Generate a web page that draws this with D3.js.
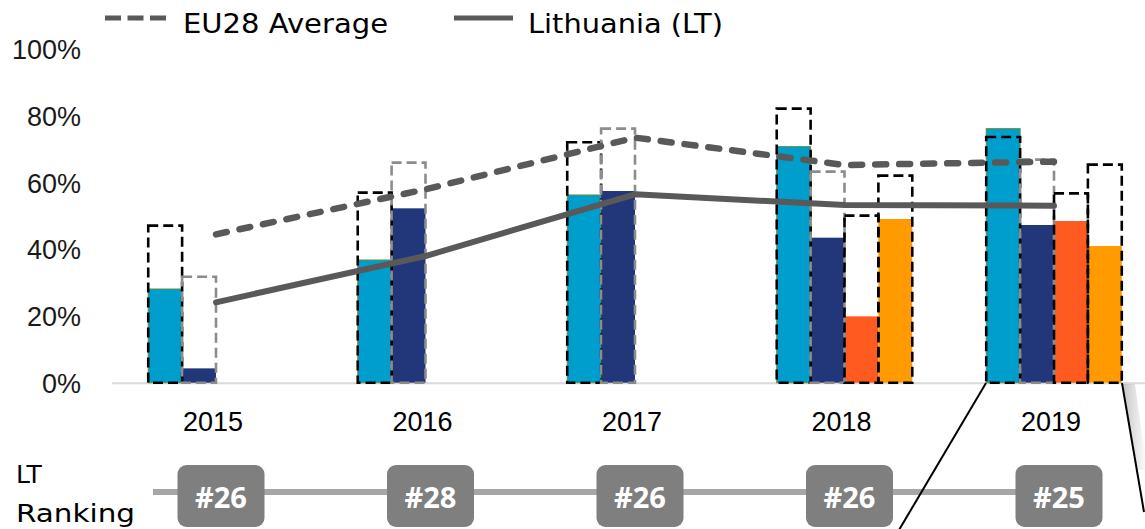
<!DOCTYPE html>
<html>
<head>
<meta charset="utf-8">
<script src="https://cdn.jsdelivr.net/npm/d3@7"></script>
<style>
  body { margin: 0; background: #fff; }
  svg { display: block; }
</style>
</head>
<body>
<svg id="chart" width="1145" height="529"></svg>
<script>
// values (percent)
var years = ['2015', '2016', '2017', '2018', '2019'];
var seriesKeys = ['ind1', 'ind2', 'ind3', 'ind4'];

// Lithuania bars, one array per indicator
var ltInd1 = [28.1, 36.8, 56.3, 70.8, 76.2];
var ltInd2 = [4.3, 52.3, 57.5, 43.5, 47.3];
var ltInd3 = [null, null, null, 19.9, 48.5];
var ltInd4 = [null, null, null, 49.1, 41.0];

// EU28 values for the same indicators (dashed outlines)
var euInd1 = [47.1, 57.0, 72.1, 82.2, 73.7];
var euInd2 = [31.8, 66.0, 76.2, 63.3, 66.9];
var euInd3 = [null, null, null, 50.1, 56.8];
var euInd4 = [null, null, null, 62.1, 65.4];

// overall scores (lines)
var euAverage = [44.5, 58.0, 73.5, 65.3, 66.3];
var ltScore = [24.1, 38.0, 56.5, 53.3, 53.1];

var ranks = ['#26', '#28', '#26', '#26', '#25'];
var yTicks = [0, 20, 40, 60, 80, 100];

var colors = { ind1: '#009ecc', ind2: '#22377a', ind3: '#ff5a1f', ind4: '#ff9a00' };
var outline = { ind1: '#000000', ind2: '#8c8c8c', ind3: '#000000', ind4: '#000000' };
var lineColor = '#595959';

var lt = { ind1: ltInd1, ind2: ltInd2, ind3: ltInd3, ind4: ltInd4 };
var eu = { ind1: euInd1, ind2: euInd2, ind3: euInd3, ind4: euInd4 };

var barData = [];
years.forEach(function (yr, i) {
    seriesKeys.forEach(function (k) {
        barData.push({ year: yr, key: k, lt: lt[k][i], eu: eu[k][i] });
    });
});

var svg = d3.select('#chart');

var x = d3.scaleBand()
    .domain(years)
    .range([111.25, 1158.75])
    .paddingInner(0.353)
    .paddingOuter(0.1765);

var x1 = d3.scaleBand()
    .domain(seriesKeys)
    .range([0, x.bandwidth()]);

var y = d3.scaleLinear()
    .domain([0, 100])
    .range([382.7, 49.3]);

function cx(yr) { return x(yr) + x.bandwidth() / 2; }

// baseline
svg.append('line')
    .attr('x1', 112).attr('x2', 1145)
    .attr('y1', y(0) + 0.5).attr('y2', y(0) + 0.5)
    .attr('stroke', '#d9d9d9')
    .attr('stroke-width', 2);

// y tick labels
svg.append('g').selectAll('text')
    .data(yTicks)
    .enter().append('text')
    .attr('x', 81)
    .attr('y', function (d) { return y(d) + 10; })
    .attr('text-anchor', 'end')
    .attr('font-family', 'Liberation Sans, Arial, sans-serif')
    .attr('font-size', 27)
    .attr('fill', '#1a1a1a')
    .text(function (d) { return d + '%'; });

// x labels
svg.append('g').selectAll('text')
    .data(years)
    .enter().append('text')
    .attr('x', function (d) { return cx(d) - 3; })
    .attr('y', 431)
    .attr('text-anchor', 'middle')
    .attr('font-family', 'Liberation Sans, Arial, sans-serif')
    .attr('font-size', 27)
    .attr('fill', '#000')
    .text(function (d) { return d; });

// LT bars
var bars = barData.filter(function (d) { return d.lt !== null; });
svg.append('g').selectAll('rect')
    .data(bars)
    .enter().append('rect')
    .attr('x', function (d) { return x(d.year) + x1(d.key); })
    .attr('y', function (d) { return y(d.lt); })
    .attr('width', x1.bandwidth())
    .attr('height', function (d) { return y(0) - y(d.lt); })
    .attr('fill', function (d) { return colors[d.key]; })
    .attr('stroke', function (d) { return d.key === 'ind1' ? '#5f8f3c' : 'none'; })
    .attr('stroke-width', 1);

// EU dashed outlines
var boxes = barData.filter(function (d) { return d.eu !== null; });
svg.append('g').selectAll('rect')
    .data(boxes)
    .enter().append('rect')
    .attr('x', function (d) { return x(d.year) + x1(d.key); })
    .attr('y', function (d) { return y(d.eu); })
    .attr('width', x1.bandwidth())
    .attr('height', function (d) { return y(0) - y(d.eu); })
    .attr('fill', 'none')
    .attr('stroke', function (d) { return outline[d.key]; })
    .attr('stroke-width', 2.6)
    .attr('stroke-dasharray', '10,5');

// lines
var line = d3.line()
    .x(function (d, i) { return cx(years[i]); })
    .y(function (d) { return y(d); });

svg.append('path')
    .datum(euAverage)
    .attr('d', line)
    .attr('fill', 'none')
    .attr('stroke', lineColor)
    .attr('stroke-width', 6.5)
    .attr('stroke-linecap', 'round')
    .attr('stroke-dasharray', '11,13');

svg.append('path')
    .datum(ltScore)
    .attr('d', line)
    .attr('fill', 'none')
    .attr('stroke', lineColor)
    .attr('stroke-width', 6)
    .attr('stroke-linecap', 'round')
    .attr('stroke-linejoin', 'round');

// legend
var legend = svg.append('g')
    .attr('font-family', 'DejaVu Sans, sans-serif')
    .attr('font-size', 26)
    .attr('fill', '#000');
legend.append('line')
    .attr('x1', 105).attr('x2', 166).attr('y1', 18).attr('y2', 18)
    .attr('stroke', lineColor).attr('stroke-width', 5)
    .attr('stroke-dasharray', '16,6.5');
legend.append('text')
    .attr('x', 183).attr('y', 33)
    .attr('textLength', 205).attr('lengthAdjust', 'spacingAndGlyphs')
    .text('EU28 Average');
legend.append('line')
    .attr('x1', 454).attr('x2', 513).attr('y1', 18).attr('y2', 18)
    .attr('stroke', lineColor).attr('stroke-width', 5);
legend.append('text')
    .attr('x', 528).attr('y', 33)
    .attr('textLength', 195).attr('lengthAdjust', 'spacingAndGlyphs')
    .text('Lithuania (LT)');

// ranking row
var rank = svg.append('g');
rank.append('text')
    .attr('x', 16).attr('y', 483)
    .attr('font-family', 'DejaVu Sans, sans-serif')
    .attr('font-size', 25)
    .text('LT');
rank.append('text')
    .attr('x', 16).attr('y', 522)
    .attr('font-family', 'DejaVu Sans, sans-serif')
    .attr('font-size', 25)
    .attr('textLength', 119).attr('lengthAdjust', 'spacingAndGlyphs')
    .text('Ranking');

rank.append('line')
    .attr('x1', 153).attr('x2', cx(years[years.length - 1]))
    .attr('y1', 492).attr('y2', 492)
    .attr('stroke', '#a6a6a6').attr('stroke-width', 6);

var badge = rank.selectAll('g.badge')
    .data(ranks)
    .enter().append('g')
    .attr('class', 'badge')
    .attr('transform', function (d, i) { return 'translate(' + (cx(years[i]) + 5) + ',0)'; });
badge.append('rect')
    .attr('x', -43.5).attr('y', 465)
    .attr('width', 87).attr('height', 62)
    .attr('rx', 9).attr('ry', 9)
    .attr('fill', '#7f7f7f');
badge.append('text')
    .attr('x', 0).attr('y', 508)
    .attr('text-anchor', 'middle')
    .attr('font-family', 'Open Sans, sans-serif')
    .attr('font-weight', 700)
    .attr('font-size', 29)
    .attr('fill', '#fff')
    .text(function (d) { return d; });

// zoom callout lines
var defs = svg.append('defs');
var grad = defs.append('linearGradient').attr('id', 'shade')
    .attr('x1', 0).attr('x2', 1).attr('y1', 0).attr('y2', 0);
grad.append('stop').attr('offset', 0).attr('stop-color', '#000').attr('stop-opacity', 0.22);
grad.append('stop').attr('offset', 1).attr('stop-color', '#000').attr('stop-opacity', 0);

svg.append('polygon')
    .attr('points', '1123,384 1135,384 1147,470 1137,470')
    .attr('fill', 'url(#shade)');
svg.append('line')
    .attr('x1', 986).attr('y1', 383).attr('x2', 899).attr('y2', 530)
    .attr('stroke', '#000').attr('stroke-width', 2);
svg.append('line')
    .attr('x1', 1122).attr('y1', 383).attr('x2', 1144).attr('y2', 512)
    .attr('stroke', '#000').attr('stroke-width', 2);
</script>
</body>
</html>
